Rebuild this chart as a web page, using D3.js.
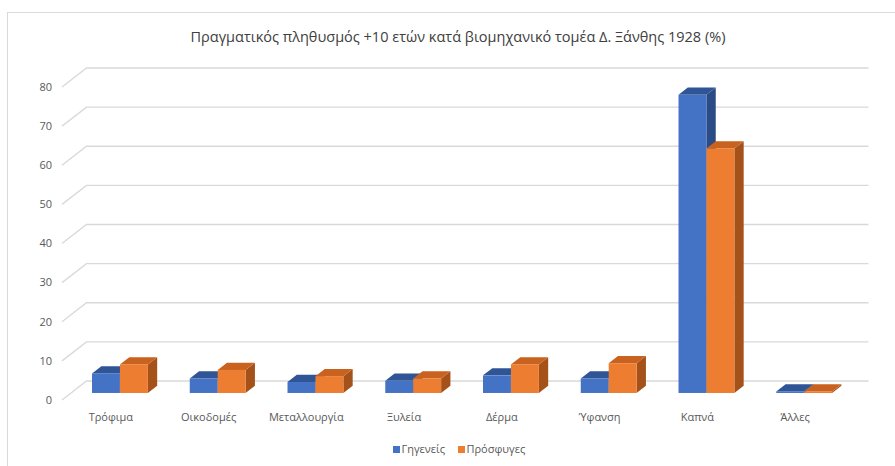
<!DOCTYPE html>
<html>
<head>
<meta charset="utf-8">
<script src="https://cdn.jsdelivr.net/npm/d3@7"></script>
<style>
  html, body { margin: 0; padding: 0; background: #ffffff; }
  svg { display: block; }
  text { font-family: "Open Sans", "Noto Sans", sans-serif; fill: #595959; }
</style>
</head>
<body>
<svg id="chart" width="895" height="466"></svg>
<script>
// Industrial sectors and the share (%) of each population group, Xanthi 1928
const categories = ["Τρόφιμα", "Οικοδομές", "Μεταλλουργία", "Ξυλεία", "Δέρμα", "Ύφανση", "Καπνά", "Άλλες"];
const natives   = [5.0, 3.7, 2.8, 3.1, 4.5, 3.7, 76.2, 0.4];
const refugees  = [7.3, 5.9, 4.3, 3.7, 7.3, 7.6, 62.5, 0.4];
const seriesNames = ["Γηγενείς", "Πρόσφυγες"];
const yTicks = [0, 10, 20, 30, 40, 50, 60, 70, 80];
const titleText = "Πραγματικός πληθυσμός +10 ετών κατά βιομηχανικό τομέα Δ. Ξάνθης 1928 (%)";

const series = [
  { name: seriesNames[0], values: natives,  front: "#4472C4", top: "#2F5597", side: "#2A4B86" },
  { name: seriesNames[1], values: refugees, front: "#ED7D31", top: "#C9621E", side: "#A5521A" }
];

const svg = d3.select("#chart");

// chart frame
svg.append("rect")
  .attr("x", 7.5).attr("y", 12.5)
  .attr("width", 900).attr("height", 470)
  .attr("fill", "#ffffff")
  .attr("stroke", "#d9d9d9").attr("stroke-width", 1);

// title
svg.append("text")
  .attr("x", 458).attr("y", 42)
  .attr("text-anchor", "middle")
  .style("font-size", "14.5px")
  .style("fill", "#404040")
  .text(titleText);

// front-plane scales; depth is added as an oblique offset
const x = d3.scaleBand().domain(categories).range([62, 844]);
const y = d3.scaleLinear().domain([0, 80]).range([400, 87]);
const depth = { dx: 24.5, dy: -19 };        // full floor depth
const barFront = 0.37, barDepth = 0.38;     // bar position within the depth

// back-wall gridlines with the side-wall diagonals
const grid = svg.append("g");
yTicks.forEach(t => {
  const yf = y(t);
  grid.append("path")
    .attr("d", `M${x.range()[0]},${yf} L${x.range()[0] + depth.dx},${yf + depth.dy} L${x.range()[1] + depth.dx},${yf + depth.dy}`)
    .attr("fill", "none")
    .attr("stroke", "#d9d9d9")
    .attr("stroke-width", 1.3);
});

// y tick labels
svg.append("g").selectAll("text")
  .data(yTicks).join("text")
  .attr("x", 52).attr("y", d => y(d))
  .attr("dy", "0.35em")
  .attr("text-anchor", "end")
  .style("font-size", "11px")
  .text(d => d);

// bars
const bw = x.bandwidth() / 3.5;             // gap width 150%
const ox = depth.dx * barFront, oy = depth.dy * barFront;
const ddx = depth.dx * barDepth, ddy = depth.dy * barDepth;
const bars = svg.append("g");
categories.forEach((c, i) => {
  const cx = x(c) + x.bandwidth() / 2 + ox;
  series.forEach((s, k) => {
    const x0 = cx - bw + k * bw, x1 = x0 + bw;
    const yb = y(0) + oy, yt = y(s.values[i]) + oy;
    const g = bars.append("g");
    // right side face
    g.append("path")
      .attr("d", `M${x1},${yb} L${x1 + ddx},${yb + ddy} L${x1 + ddx},${yt + ddy} L${x1},${yt} Z`)
      .attr("fill", s.side);
    // top face
    g.append("path")
      .attr("d", `M${x0},${yt} L${x0 + ddx},${yt + ddy} L${x1 + ddx},${yt + ddy} L${x1},${yt} Z`)
      .attr("fill", s.top);
    // front face
    g.append("rect")
      .attr("x", x0).attr("y", yt)
      .attr("width", bw).attr("height", yb - yt)
      .attr("fill", s.front);
  });
});

// category labels
svg.append("g").selectAll("text")
  .data(categories).join("text")
  .attr("x", d => x(d) + x.bandwidth() / 2)
  .attr("y", 417)
  .attr("dy", "0.35em")
  .attr("text-anchor", "middle")
  .style("font-size", "11px")
  .text(d => d);

// legend
const legend = svg.append("g");
const legendX = [393, 458];
series.forEach((s, k) => {
  legend.append("rect")
    .attr("x", legendX[k]).attr("y", 446)
    .attr("width", 7).attr("height", 7)
    .attr("fill", s.front);
  legend.append("text")
    .attr("x", legendX[k] + 8.5).attr("y", 449.5)
    .attr("dy", "0.35em")
    .style("font-size", "11px")
    .text(s.name);
});
</script>
</body>
</html>
